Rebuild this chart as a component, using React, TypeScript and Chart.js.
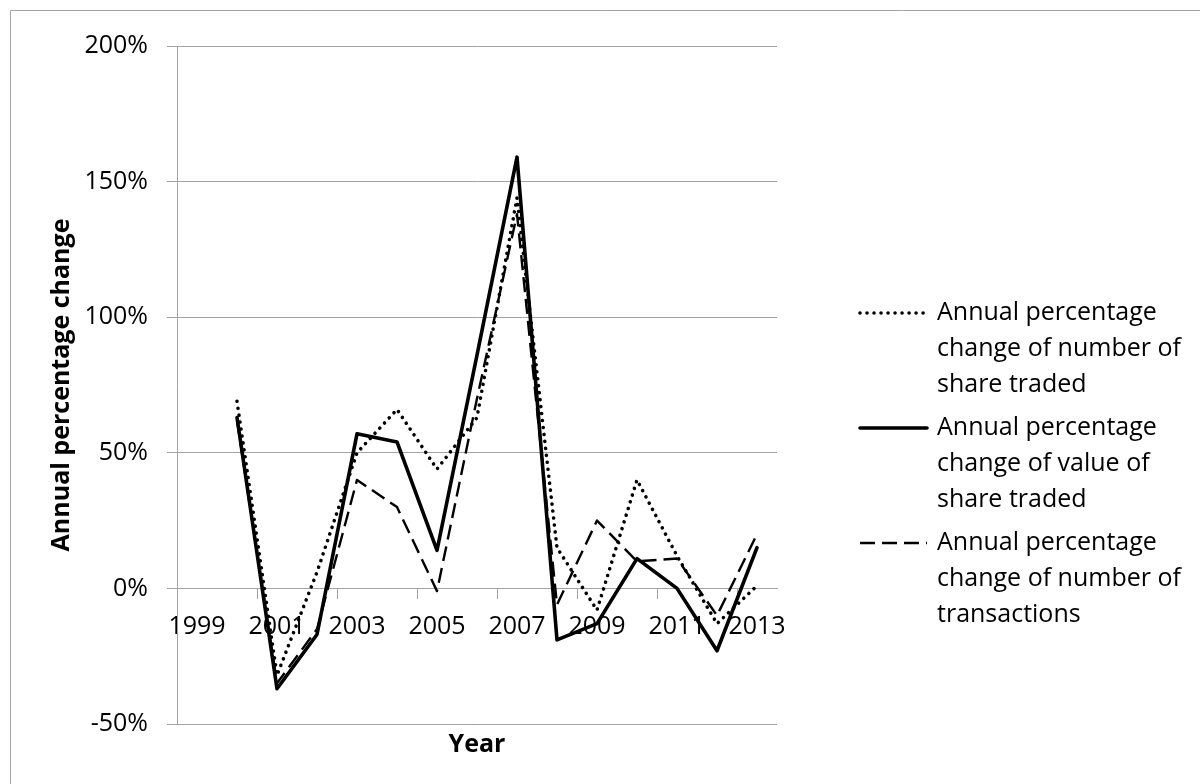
import React, { useEffect, useRef } from 'react';
import { Chart, registerables } from 'chart.js';

Chart.register(...registerables);

const years = ['1999', '2000', '2001', '2002', '2003', '2004', '2005', '2006', '2007', '2008', '2009', '2010', '2011', '2012', '2013'];
const sharesTradedPct = [null, 69, -32, 6, 50, 66, 44, 63, 144, 15, -8, 40, 12, -13, 1];
const valueTradedPct = [null, 63, -37, -17, 57, 54, 14, 86, 159, -19, -13, 11, 0, -23, 15];
const transactionsPct = [null, 62, -35, -15, 40, 30, -1, 70, 138, -6, 25, 10, 11, -10, 20];
const yTicks = [-50, 0, 50, 100, 150, 200];
const seriesLabels = [
  ['Annual percentage', 'change of number of', 'share traded'],
  ['Annual percentage', 'change of value of', 'share traded'],
  ['Annual percentage', 'change of number of', 'transactions'],
];

const FONT = '"Open Sans", "Noto Sans", sans-serif';
const GRID = '#a3a3a3';

const framePlugin = {
  id: 'frame',
  beforeDraw(chart: any) {
    const ctx = chart.ctx;
    ctx.save();
    ctx.fillStyle = '#ffffff';
    ctx.fillRect(0, 0, chart.width, chart.height);
    ctx.strokeStyle = GRID;
    ctx.lineWidth = 1;
    ctx.beginPath();
    ctx.moveTo(10.5, chart.height);
    ctx.lineTo(10.5, 10.5);
    ctx.lineTo(chart.width, 10.5);
    ctx.stroke();
    ctx.restore();
  },
};

const legendPlugin = {
  id: 'multiLineLegend',
  afterDraw(chart: any) {
    const ctx = chart.ctx;
    const firstY = 313;
    const lineGap = 36;
    const entryGap = 115;
    chart.data.datasets.forEach((ds: any, i: number) => {
      const y0 = firstY + i * entryGap;
      ctx.save();
      ctx.strokeStyle = ds.borderColor;
      ctx.lineWidth = ds.borderWidth;
      ctx.setLineDash(ds.borderDash || []);
      ctx.lineCap = ds.borderCapStyle || 'butt';
      ctx.beginPath();
      ctx.moveTo(860, y0);
      ctx.lineTo(927, y0);
      ctx.stroke();
      ctx.restore();
      ctx.save();
      ctx.fillStyle = '#000000';
      ctx.font = `25px ${FONT}`;
      ctx.textAlign = 'left';
      ctx.textBaseline = 'middle';
      (seriesLabels[i] || []).forEach((t: string, j: number) => {
        ctx.fillText(t, 937, y0 + j * lineGap);
      });
      ctx.restore();
    });
  },
};

export default function App() {
  const canvasRef = useRef<HTMLCanvasElement | null>(null);

  useEffect(() => {
    if (!canvasRef.current) return;
    const chart = new Chart(canvasRef.current, {
      type: 'line',
      data: {
        labels: years,
        datasets: [
          {
            label: seriesLabels[0].join(' '),
            data: sharesTradedPct,
            xAxisID: 'x',
            yAxisID: 'y',
            borderColor: '#000000',
            borderWidth: 3.6,
            borderDash: [0.01, 7],
            borderCapStyle: 'round',
            borderJoinStyle: 'round',
            pointRadius: 0,
            fill: false,
            tension: 0,
          },
          {
            label: seriesLabels[1].join(' '),
            data: valueTradedPct,
            xAxisID: 'x',
            yAxisID: 'y',
            borderColor: '#000000',
            borderWidth: 3.6,
            borderCapStyle: 'round',
            borderJoinStyle: 'round',
            pointRadius: 0,
            fill: false,
            tension: 0,
          },
          {
            label: seriesLabels[2].join(' '),
            data: transactionsPct,
            xAxisID: 'x',
            yAxisID: 'y',
            borderColor: '#000000',
            borderWidth: 2.4,
            borderDash: [15, 7],
            borderCapStyle: 'butt',
            borderJoinStyle: 'round',
            pointRadius: 0,
            fill: false,
            tension: 0,
          },
        ] as any,
      },
      options: {
        animation: false,
        responsive: false,
        maintainAspectRatio: false,
        devicePixelRatio: 1,
        layout: { padding: { left: 0, right: 423, top: 46, bottom: 0 } },
        plugins: {
          legend: { display: false },
          tooltip: { enabled: false },
        },
        scales: {
          x: {
            type: 'category',
            position: { y: 0 } as any,
            offset: true,
            grid: {
              offset: true,
              drawOnChartArea: false,
              drawTicks: true,
              tickLength: 10,
              lineWidth: 1,
              color: (c: any) => (c.index !== undefined && c.index % 2 === 0 ? GRID : 'rgba(0,0,0,0)'),
            },
            border: { display: true, color: GRID, width: 1 },
            ticks: {
              autoSkip: false,
              maxRotation: 0,
              minRotation: 0,
              padding: 13,
              color: '#000000',
              font: { family: FONT, size: 25 },
              callback: (_v: any, i: number) => (i % 2 === 0 ? years[i] : ''),
            },
          },
          xTitle: {
            type: 'category',
            position: 'bottom',
            labels: years,
            offset: true,
            grid: { display: false },
            border: { display: false },
            ticks: { display: false },
            title: {
              display: true,
              text: 'Year',
              color: '#000000',
              font: { family: FONT, size: 25, weight: 'bold' },
              padding: { top: 0, bottom: 24 },
            },
            afterFit: (s: any) => {
              s.height = 60;
            },
          },
          y: {
            type: 'linear',
            position: 'left',
            min: -50,
            max: 200,
            afterBuildTicks: (s: any) => {
              s.ticks = yTicks.map((v) => ({ value: v }));
            },
            grid: { color: GRID, lineWidth: 1, drawTicks: true, tickLength: 10 },
            border: { display: true, color: GRID, width: 1 },
            ticks: {
              padding: 19,
              color: '#000000',
              font: { family: FONT, size: 25 },
              callback: (v: any) => `${v}%`,
            },
            title: {
              display: true,
              text: 'Annual percentage change',
              color: '#000000',
              font: { family: FONT, size: 25, weight: 'bold' },
              padding: { top: 47, bottom: 0 },
            },
            afterFit: (s: any) => {
              s.width = 177;
            },
          },
        } as any,
      },
      plugins: [framePlugin, legendPlugin],
    });
    return () => chart.destroy();
  }, []);

  return (
    <div style={{ position: 'absolute', left: 0, top: 0, width: 1200, height: 784, background: '#fff' }}>
      <canvas ref={canvasRef} width={1200} height={784} style={{ display: 'block', width: 1200, height: 784 }} />
    </div>
  );
}
